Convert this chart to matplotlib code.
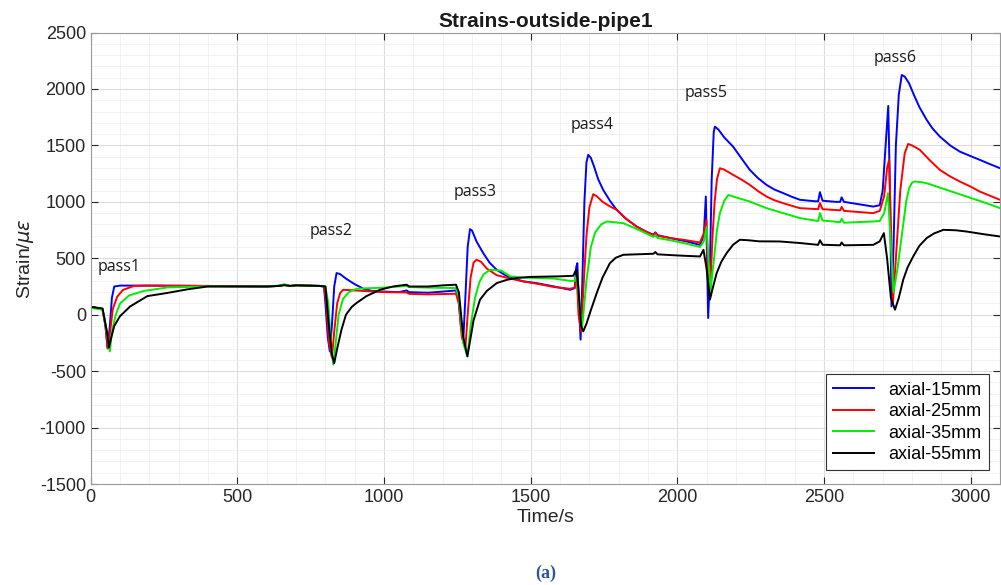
import numpy as np
import matplotlib
matplotlib.use("Agg")
import matplotlib.pyplot as plt
from matplotlib.ticker import MultipleLocator

plt.rcParams['axes.unicode_minus'] = False

# (time s, strain) points
axial_15 = [(0, 70), (40, 50), (50, -100), (57, -295), (65, -100), (72, 150), (80, 250), (100, 258),
            (200, 258), (400, 255), (600, 250), (640, 255), (660, 265), (680, 255), (700, 262), (780, 255),
            (795, 250), (800, 100), (808, -200), (815, -325), (822, -100), (830, 250), (838, 369), (850, 360),
            (870, 320), (900, 270), (930, 230), (960, 210), (1000, 205), (1050, 200), (1077, 215), (1085, 200),
            (1150, 195), (1200, 205), (1245, 215), (1253, 150), (1262, -100), (1270, -221), (1278, 200),
            (1285, 600), (1293, 758), (1300, 745), (1315, 650), (1338, 546), (1360, 460), (1384, 398),
            (1410, 355), (1430, 330), (1475, 295), (1520, 280), (1580, 250), (1634, 221), (1650, 235),
            (1655, 420), (1659, 457), (1664, 100), (1670, -221), (1676, 300), (1683, 1000), (1690, 1350),
            (1696, 1416), (1705, 1390), (1715, 1320), (1730, 1200), (1747, 1106), (1770, 1010), (1793, 929),
            (1825, 850), (1861, 781), (1890, 740), (1918, 708), (1925, 730), (1932, 705), (1975, 679),
            (2030, 650), (2077, 619), (2090, 700), (2097, 1047), (2101, 500), (2105, -29), (2110, 300),
            (2117, 1200), (2124, 1620), (2128, 1666), (2140, 1640), (2160, 1570), (2190, 1489), (2220, 1380),
            (2247, 1283), (2275, 1210), (2304, 1150), (2330, 1110), (2361, 1077), (2390, 1045), (2418, 1018),
            (2470, 1005), (2480, 1005), (2486, 1086), (2495, 1010), (2540, 1000), (2555, 1000), (2560, 1040),
            (2568, 1000), (2668, 958), (2690, 970), (2700, 1100), (2710, 1500), (2719, 1850), (2724, 1200),
            (2730, 73), (2737, 600), (2745, 1500), (2755, 1950), (2765, 2124), (2775, 2110), (2790, 2050),
            (2804, 1962), (2825, 1840), (2850, 1726), (2870, 1650), (2895, 1578), (2930, 1500), (2963, 1445),
            (3000, 1405), (3031, 1372), (3065, 1335), (3100, 1298)]

axial_25 = [(0, 70), (40, 50), (50, -100), (58, -300), (66, -150), (75, 50), (90, 160), (110, 220),
            (147, 255), (200, 258), (400, 255), (600, 250), (640, 255), (660, 262), (680, 255), (700, 260),
            (780, 255), (795, 250), (803, 100), (812, -250), (822, -380), (830, -150), (840, 100), (850, 190),
            (860, 221), (900, 215), (1000, 200), (1077, 197), (1085, 185), (1150, 180), (1200, 183),
            (1245, 186), (1255, 100), (1265, -200), (1277, -300), (1285, 0), (1295, 330), (1305, 460),
            (1315, 487), (1330, 470), (1350, 410), (1384, 350), (1430, 320), (1475, 295), (1520, 275),
            (1580, 245), (1634, 230), (1650, 240), (1657, 330), (1663, 0), (1672, -150), (1680, 250),
            (1690, 700), (1700, 950), (1713, 1068), (1725, 1050), (1745, 1000), (1770, 960), (1793, 929),
            (1825, 850), (1861, 781), (1890, 740), (1918, 705), (1925, 725), (1932, 700), (1975, 680),
            (2030, 660), (2077, 640), (2090, 720), (2099, 841), (2104, 400), (2111, 186), (2120, 700),
            (2127, 1000), (2135, 1200), (2145, 1298), (2160, 1285), (2190, 1239), (2220, 1195), (2247, 1150),
            (2275, 1095), (2304, 1047), (2330, 1015), (2361, 988), (2390, 965), (2418, 944), (2480, 935),
            (2486, 990), (2495, 935), (2555, 925), (2560, 955), (2568, 920), (2668, 900), (2690, 920),
            (2705, 1050), (2715, 1300), (2722, 1372), (2728, 800), (2735, 109), (2745, 500), (2760, 1100),
            (2775, 1430), (2787, 1513), (2800, 1500), (2827, 1460), (2860, 1370), (2895, 1283), (2930, 1225),
            (2963, 1180), (3000, 1135), (3031, 1091), (3065, 1055), (3100, 1018)]

axial_35 = [(0, 60), (40, 45), (50, -80), (60, -250), (65, -325), (72, -150), (85, 0), (100, 100),
            (130, 170), (180, 210), (262, 242), (400, 250), (600, 250), (640, 258), (660, 270), (680, 255),
            (700, 262), (780, 255), (800, 250), (810, 100), (820, -300), (827, -442), (835, -250), (845, 0),
            (860, 140), (880, 200), (906, 230), (1000, 240), (1077, 255), (1085, 245), (1150, 240),
            (1200, 238), (1245, 236), (1255, 150), (1270, -250), (1284, -369), (1295, -100), (1310, 150),
            (1325, 290), (1340, 360), (1361, 398), (1400, 390), (1430, 340), (1475, 330), (1520, 325),
            (1580, 320), (1634, 300), (1650, 300), (1657, 350), (1665, 100), (1675, -120), (1690, 300),
            (1705, 600), (1720, 730), (1740, 800), (1759, 826), (1816, 811), (1861, 760), (1918, 690),
            (1925, 705), (1932, 680), (1975, 660), (2030, 630), (2077, 600), (2090, 650), (2100, 780),
            (2106, 500), (2113, 212), (2125, 500), (2135, 750), (2145, 900), (2160, 1010), (2174, 1062),
            (2190, 1047), (2247, 1003), (2304, 944), (2361, 900), (2418, 856), (2480, 830), (2486, 900),
            (2495, 835), (2555, 820), (2560, 850), (2568, 815), (2668, 826), (2690, 830), (2705, 900),
            (2718, 1077), (2726, 700), (2737, 198), (2750, 400), (2770, 800), (2780, 1000), (2790, 1120),
            (2800, 1170), (2810, 1180), (2830, 1175), (2850, 1165), (2918, 1106), (2986, 1047), (3054, 988),
            (3100, 944)]

axial_55 = [(0, 70), (40, 55), (55, -150), (62, -290), (70, -200), (80, -100), (99, -15), (134, 73),
            (193, 165), (259, 192), (330, 225), (398, 250), (600, 250), (640, 255), (660, 262), (680, 255),
            (700, 260), (780, 255), (800, 250), (812, -100), (822, -350), (830, -430), (840, -300),
            (855, -130), (870, 0), (890, 70), (906, 104), (940, 165), (986, 221), (1030, 250), (1077, 266),
            (1085, 250), (1150, 250), (1200, 260), (1245, 266), (1255, 200), (1270, -200), (1284, -369),
            (1292, -250), (1305, -50), (1327, 133), (1350, 210), (1384, 280), (1420, 310), (1452, 325),
            (1500, 335), (1600, 340), (1645, 345), (1655, 400), (1662, 250), (1672, -100), (1679, -148),
            (1690, -80), (1705, 40), (1725, 192), (1745, 330), (1770, 457), (1790, 505), (1816, 531),
            (1918, 540), (1925, 555), (1932, 535), (2000, 525), (2077, 516), (2089, 575), (2100, 400),
            (2111, 133), (2120, 230), (2134, 369), (2150, 470), (2168, 546), (2190, 620), (2213, 664),
            (2240, 660), (2280, 650), (2349, 649), (2418, 635), (2480, 619), (2486, 660), (2495, 620),
            (2555, 615), (2560, 640), (2568, 615), (2668, 619), (2690, 650), (2704, 723), (2715, 500),
            (2728, 150), (2742, 44), (2755, 150), (2770, 310), (2785, 420), (2804, 516), (2825, 610),
            (2850, 679), (2875, 720), (2907, 752), (2950, 748), (2986, 737), (3040, 715), (3100, 693)]

series_labels = ['axial-15mm', 'axial-25mm', 'axial-35mm', 'axial-55mm']
series_colors = ['#0000ff', '#ff0000', '#00ee00', '#000000']

pass_names = ['pass1', 'pass2', 'pass3', 'pass4', 'pass5', 'pass6']
pass_t = [96, 820, 1310, 1709, 2097, 2742]
pass_s = [427, 743, 1090, 1680, 1965, 2272]

fig = plt.figure(figsize=(10.01, 5.85), dpi=100)
ax = fig.add_axes([0.0907, 0.1726, 0.9083, 0.7718])

for pts, lab, col in zip([axial_15, axial_25, axial_35, axial_55], series_labels, series_colors):
    t, s = zip(*pts)
    ax.plot(t, s, color=col, lw=1.4, label=lab)

for name, t, s in zip(pass_names, pass_t, pass_s):
    ax.text(t, s, name, fontsize=11.5, family='Open Sans', color='#1a1a1a', ha='center', va='center')

ax.set_xlim(0, 3100)
ax.set_ylim(-1500, 2500)
ax.xaxis.set_major_locator(MultipleLocator(500))
ax.yaxis.set_major_locator(MultipleLocator(500))
ax.xaxis.set_minor_locator(MultipleLocator(100))
ax.yaxis.set_minor_locator(MultipleLocator(100))
ax.grid(True, which='major', color='#dcdcdc', lw=0.8)
ax.grid(True, which='minor', color='#f0f0f0', lw=0.6)
ax.set_axisbelow(True)
ax.tick_params(which='both', direction='in', top=True, right=True, colors='#262626',
               labelsize=13, length=5)
ax.tick_params(which='minor', length=0)
for sp in ax.spines.values():
    sp.set_color('#9a9a9a')
for lbl in ax.get_xticklabels() + ax.get_yticklabels():
    lbl.set_family('Liberation Sans')

ax.set_title('Strains-outside-pipe1', fontsize=15, fontweight='bold', family='Liberation Sans',
             color='#1a1a1a', pad=4)
ax.set_xlabel('Time/s', fontsize=14, family='Liberation Sans', color='#262626', labelpad=2)
ax.set_ylabel(r'Strain/$\mu\epsilon$', fontsize=14, family='Liberation Sans', color='#262626', labelpad=3)

leg = ax.legend(loc='lower right', bbox_to_anchor=(0.988, 0.03), frameon=True,
                fancybox=False, edgecolor='#333333', framealpha=1, handlelength=2.3,
                borderaxespad=0, labelspacing=0.25, prop={'family': 'Liberation Sans', 'size': 13})
leg.get_frame().set_linewidth(0.8)

fig.text(0.545, 0.005, '(a)', fontsize=13, fontweight='bold', family='Liberation Serif',
         color='#2e5597', ha='center', va='bottom')

fig.savefig('out.png', dpi=100)
